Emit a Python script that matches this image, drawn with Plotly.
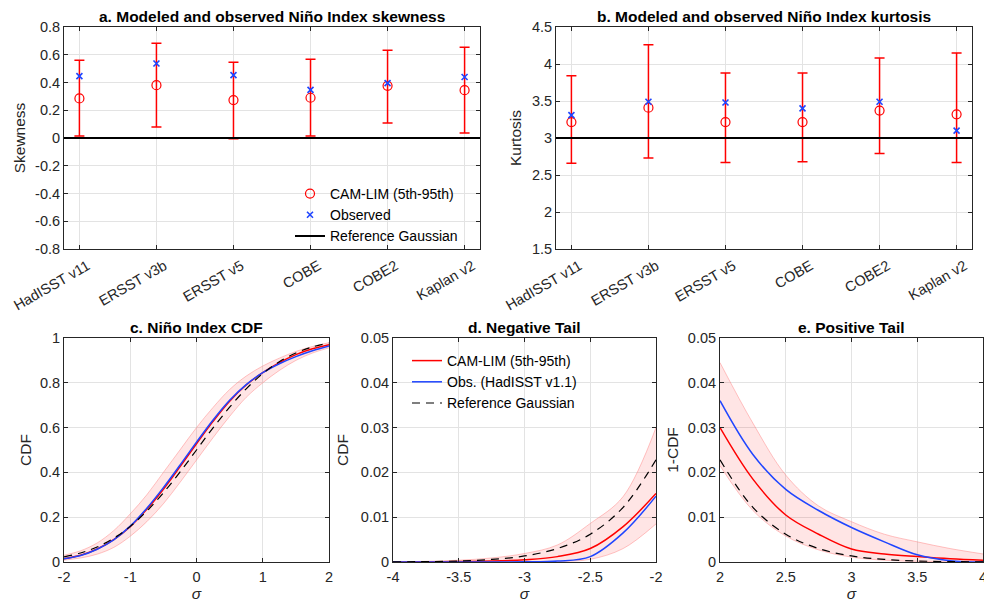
import plotly.graph_objects as go

# ---- data ----
datasets = ['HadISST v11', 'ERSST v3b', 'ERSST v5', 'COBE', 'COBE2', 'Kaplan v2']
pos = [1, 2, 3, 4, 5, 6]

skew_model = [0.285, 0.381, 0.273, 0.29, 0.376, 0.345]
skew_p95 = [0.56, 0.683, 0.546, 0.568, 0.632, 0.654]
skew_p05 = [0.014, 0.079, -0.005, 0.014, 0.108, 0.036]
skew_obs = [0.446, 0.537, 0.453, 0.347, 0.395, 0.44]

kurt_model = [3.215, 3.41, 3.215, 3.215, 3.37, 3.32]
kurt_p95 = [3.84, 4.26, 3.88, 3.88, 4.08, 4.15]
kurt_p05 = [2.66, 2.73, 2.67, 2.68, 2.79, 2.67]
kurt_obs = [3.31, 3.49, 3.48, 3.40, 3.49, 3.10]

gauss_skew = 0
gauss_kurt = 3

# c. full CDF
sig_c = [-2, -1.75, -1.5, -1.25, -1, -0.75, -0.5, -0.25, 0, 0.25, 0.5, 0.75, 1, 1.25, 1.5, 1.75, 2]
cdf_model = [0.015, 0.03, 0.058, 0.100, 0.158, 0.235, 0.325, 0.425, 0.528, 0.628, 0.718, 0.79, 0.845, 0.89, 0.926, 0.952, 0.970]
cdf_obs = [0.0145, 0.029, 0.057, 0.099, 0.16, 0.24, 0.332, 0.432, 0.535, 0.634, 0.722, 0.792, 0.845, 0.885, 0.917, 0.943, 0.964]
cdf_gauss = [0.023, 0.040, 0.067, 0.106, 0.159, 0.227, 0.309, 0.401, 0.5, 0.599, 0.691, 0.773, 0.841, 0.894, 0.933, 0.960, 0.977]
cdf_hi = [0.03, 0.05, 0.085, 0.14, 0.215, 0.30, 0.40, 0.50, 0.60, 0.69, 0.77, 0.83, 0.875, 0.91, 0.94, 0.962, 0.979]
cdf_lo = [0.0085, 0.018, 0.035, 0.065, 0.115, 0.18, 0.26, 0.355, 0.455, 0.555, 0.65, 0.735, 0.80, 0.855, 0.9, 0.933, 0.956]

# d. negative tail
sig_d = [-4, -3.75, -3.5, -3.25, -3, -2.75, -2.5, -2.25, -2]
neg_model = [0.0, 0.00004, 0.0001, 0.0002, 0.0005, 0.0012, 0.003, 0.0079, 0.0153]
neg_obs = [0.0, 0.0, 0.0, 0.00001, 0.00003, 0.0002, 0.0012, 0.0065, 0.0147]
neg_gauss = [0.00003, 0.00009, 0.00023, 0.00058, 0.00135, 0.0030, 0.0062, 0.0122, 0.0228]
neg_hi = [0.00005, 0.00015, 0.0004, 0.0009, 0.0019, 0.0038, 0.0086, 0.0146, 0.030]
neg_lo = [0.0, 0.0, 0.0, 0.0, 0.00002, 0.0001, 0.0006, 0.003, 0.0085]

# e. positive tail
sig_e = [2, 2.25, 2.5, 2.75, 3, 3.25, 3.5, 3.75, 4]
pos_model = [0.030, 0.0185, 0.0105, 0.0062, 0.0029, 0.0018, 0.0012, 0.0007, 0.0004]
pos_obs = [0.036, 0.024, 0.0162, 0.0115, 0.0077, 0.0045, 0.0016, 0.0003, 0.0]
pos_gauss = [0.0228, 0.0122, 0.0062, 0.0030, 0.00135, 0.00058, 0.00023, 0.00009, 0.00003]
pos_hi = [0.0445, 0.031, 0.0194, 0.0125, 0.009, 0.0062, 0.0045, 0.003, 0.0018]
pos_lo = [0.0215, 0.0115, 0.0058, 0.0027, 0.0011, 0.0004, 0.00015, 0.00005, 0.0]

RED = '#ff0000'
BLUE = '#1f45ff'
AX = '#262626'
FONT = 'Liberation Sans, Arial, sans-serif'

# page has an 8px body margin, so the figure is 984x594 and shifted by 8px
W, H, OFF = 984, 594, 8


def px_x(p):
    return (p - OFF) / W


def px_y(p):
    return 1 - (p - OFF) / H


fig = go.Figure()

# ---- a / b : skewness and kurtosis ----
for xa, ya, mid, hi, lo, obs, leg in [
    ('x', 'y', skew_model, skew_p95, skew_p05, skew_obs, True),
    ('x2', 'y2', kurt_model, kurt_p95, kurt_p05, kurt_obs, False),
]:
    fig.add_trace(go.Scatter(
        x=pos, y=mid, mode='markers', xaxis=xa, yaxis=ya,
        name='CAM-LIM (5th-95th)', showlegend=leg, legend='legend',
        marker=dict(symbol='circle-open', size=9, color=RED, line=dict(width=1.2)),
        error_y=dict(type='data', symmetric=False,
                     array=[h - m for h, m in zip(hi, mid)],
                     arrayminus=[m - l for m, l in zip(mid, lo)],
                     color=RED, thickness=1.5, width=5),
    ))
    fig.add_trace(go.Scatter(
        x=pos, y=obs, mode='markers', xaxis=xa, yaxis=ya,
        name='Observed', showlegend=leg, legend='legend',
        marker=dict(symbol='x-thin', size=6, line=dict(width=1.6, color=BLUE)),
    ))

fig.add_shape(type='line', xref='x domain', yref='y', x0=0, x1=1, y0=gauss_skew, y1=gauss_skew,
              line=dict(color='black', width=2), showlegend=True, legend='legend',
              name='Reference Gaussian')
fig.add_shape(type='line', xref='x2 domain', yref='y2', x0=0, x1=1, y0=gauss_kurt, y1=gauss_kurt,
              line=dict(color='black', width=2))

# ---- c / d / e : CDF panels ----
panels = [
    ('x3', 'y3', sig_c, cdf_lo, cdf_hi, cdf_model, cdf_obs, cdf_gauss, False),
    ('x4', 'y4', sig_d, neg_lo, neg_hi, neg_model, neg_obs, neg_gauss, True),
    ('x5', 'y5', sig_e, pos_lo, pos_hi, pos_model, pos_obs, pos_gauss, False),
]
for xa, ya, s, lo, hi, mid, obs, gs, leg in panels:
    fig.add_trace(go.Scatter(x=s, y=lo, xaxis=xa, yaxis=ya, mode='lines', line_shape='spline',
                             line=dict(color='rgba(255,120,120,0.55)', width=0.8),
                             showlegend=False, hoverinfo='skip'))
    fig.add_trace(go.Scatter(x=s, y=hi, xaxis=xa, yaxis=ya, mode='lines', line_shape='spline',
                             line=dict(color='rgba(255,120,120,0.55)', width=0.8),
                             fill='tonexty', fillcolor='rgba(255,0,0,0.1)',
                             showlegend=False, hoverinfo='skip'))
    fig.add_trace(go.Scatter(x=s, y=mid, xaxis=xa, yaxis=ya, mode='lines', line_shape='spline',
                             line=dict(color=RED, width=1.5),
                             name='CAM-LIM (5th-95th)', showlegend=leg, legend='legend2'))
    fig.add_trace(go.Scatter(x=s, y=obs, xaxis=xa, yaxis=ya, mode='lines', line_shape='spline',
                             line=dict(color=BLUE, width=1.5),
                             name='Obs. (HadISST v1.1)', showlegend=leg, legend='legend2'))
    fig.add_trace(go.Scatter(x=s, y=gs, xaxis=xa, yaxis=ya, mode='lines', line_shape='spline',
                             line=dict(color='black', width=1.2, dash='8px,6px'),
                             name='Reference Gaussian', showlegend=leg, legend='legend2'))


def ax(domain, rng, **kw):
    d = dict(domain=domain, range=rng, showline=True, mirror='ticks', linecolor=AX, linewidth=1,
             ticks='inside', ticklen=4, tickcolor=AX, showgrid=True, gridcolor='#e3e3e3',
             zeroline=False, automargin=False, ticklabeloverflow='allow',
             tickfont=dict(size=14.5, color=AX, family=FONT),
             title_font=dict(size=15.5, color=AX, family=FONT))
    d.update(kw)
    return d


xa_dom = [px_x(64), px_x(480)]
xb_dom = [px_x(556), px_x(972)]
xc_dom = [px_x(64), px_x(329)]
xd_dom = [px_x(393), px_x(656)]
xe_dom = [px_x(720), px_x(983)]
top_dom = [px_y(249), px_y(27)]
bot_dom = [px_y(562), px_y(338)]

skew_ticks = [-0.8, -0.6, -0.4, -0.2, 0, 0.2, 0.4, 0.6, 0.8]
kurt_ticks = [1.5, 2, 2.5, 3, 3.5, 4, 4.5]
c_xticks = [-2, -1, 0, 1, 2]
d_xticks = [-4, -3.5, -3, -2.5, -2]
e_xticks = [2, 2.5, 3, 3.5, 4]

fig.update_layout(
    width=W, height=H,
    margin=dict(l=0, r=0, t=0, b=0),
    paper_bgcolor='white', plot_bgcolor='white',
    font=dict(family=FONT, color=AX, size=14),
    xaxis=ax(xa_dom, [0.8, 6.2], anchor='y', tickvals=pos, ticktext=datasets, tickangle=-30,
             ticklabelstandoff=2, ticklabelshift=8),
    yaxis=ax(top_dom, [-0.8, 0.8], anchor='x', tickvals=skew_ticks,
             ticktext=[('%g' % v) for v in skew_ticks],
             title=dict(text='Skewness', standoff=5)),
    xaxis2=ax(xb_dom, [0.8, 6.2], anchor='y2', tickvals=pos, ticktext=datasets, tickangle=-30,
              ticklabelstandoff=2, ticklabelshift=8),
    yaxis2=ax(top_dom, [1.5, 4.5], anchor='x2', tickvals=kurt_ticks,
              ticktext=[('%g' % v) for v in kurt_ticks],
              title=dict(text='Kurtosis', standoff=6)),
    xaxis3=ax(xc_dom, [-2, 2], anchor='y3', tickvals=c_xticks,
              ticktext=[('%g' % v) for v in c_xticks], ticklabelstandoff=2,
              title=dict(text='<i>σ</i>', standoff=6)),
    yaxis3=ax(bot_dom, [0, 1], anchor='x3', dtick=0.2, tickformat='.1~f',
              title=dict(text='CDF', standoff=4)),
    xaxis4=ax(xd_dom, [-4, -2], anchor='y4', tickvals=d_xticks,
              ticktext=[('%g' % v) for v in d_xticks], ticklabelstandoff=2,
              title=dict(text='<i>σ</i>', standoff=6)),
    yaxis4=ax(bot_dom, [0, 0.05], anchor='x4', dtick=0.01, tickformat='.2~f',
              title=dict(text='CDF', standoff=8)),
    xaxis5=ax(xe_dom, [2, 4], anchor='y5', tickvals=e_xticks,
              ticktext=[('%g' % v) for v in e_xticks], ticklabelstandoff=2,
              title=dict(text='<i>σ</i>', standoff=6)),
    yaxis5=ax(bot_dom, [0, 0.05], anchor='x5', dtick=0.01, tickformat='.2~f',
              title=dict(text='1-CDF', standoff=5)),
    legend=dict(x=px_x(290), y=px_y(178), xanchor='left', yanchor='top', bgcolor='rgba(0,0,0,0)',
                traceorder='normal', font=dict(size=14, color='black'),
                tracegroupgap=0, itemwidth=30),
    legend2=dict(x=px_x(407), y=px_y(345), xanchor='left', yanchor='top', bgcolor='rgba(0,0,0,0)',
                 traceorder='normal', font=dict(size=14, color='black'),
                 tracegroupgap=0, itemwidth=30),
)

titles = [
    ('a. Modeled and observed Niño Index skewness', xa_dom, top_dom),
    ('b. Modeled and observed Niño Index kurtosis', xb_dom, top_dom),
    ('c. Niño Index CDF', xc_dom, bot_dom),
    ('d. Negative Tail', xd_dom, bot_dom),
    ('e. Positive Tail', xe_dom, bot_dom),
]
for txt, xd, yd in titles:
    fig.add_annotation(text='<b>%s</b>' % txt, x=(xd[0] + xd[1]) / 2, y=yd[1],
                       xref='paper', yref='paper', xanchor='center', yanchor='bottom',
                       yshift=0, showarrow=False, font=dict(size=15.5, color='black', family=FONT))

fig.write_html("out.html")
